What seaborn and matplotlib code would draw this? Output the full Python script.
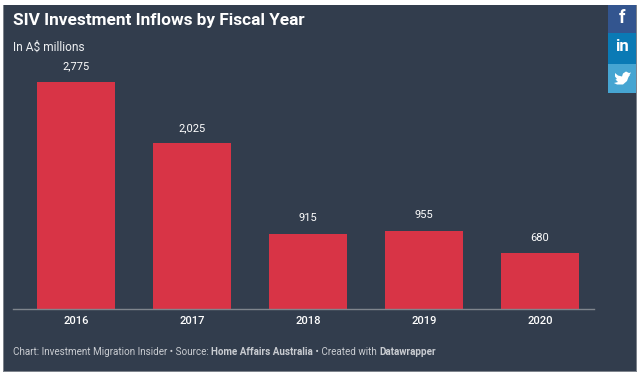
import pandas as pd
import matplotlib
matplotlib.use('Agg')
import matplotlib.pyplot as plt
from matplotlib.patches import Rectangle, Polygon
import seaborn as sns

years = ['2016', '2017', '2018', '2019', '2020']
inflows = [2775, 2025, 915, 955, 680]
value_labels = ['2,775', '2,025', '915', '955', '680']

title = 'SIV Investment Inflows by Fiscal Year'
subtitle = 'In A$ millions'

W, H = 640, 375
BG = '#323d4d'
RED = '#d83446'
TEXT = '#ffffff'

sns.set_theme(style='white')
plt.rcParams['font.family'] = ['Roboto', 'DejaVu Sans']

fig = plt.figure(figsize=(W / 100, H / 100), dpi=100, facecolor='white')


def fx(x):
    return x / W


def fy(y):
    return 1 - y / H


def box(x0, y0, x1, y1, color):
    fig.add_artist(Rectangle((fx(x0), fy(y1)), (x1 - x0) / W, (y1 - y0) / H,
                             transform=fig.transFigure, facecolor=color, edgecolor='none',
                             zorder=-1))


# dark panel with the thin grey edge on the left
box(3, 5, 637, 372, '#7d838c')
box(4, 5, 636, 371, BG)

# the bars
ax = fig.add_axes([fx(13), fy(308.5), 581 / W, 226.5 / H])
ax.patch.set_alpha(0)
df = pd.DataFrame({'year': years, 'inflow': inflows})
sns.barplot(data=df, x='year', y='inflow', color=RED, saturation=1, width=0.672, linewidth=0, ax=ax)
ax.set_xlim(-0.543, 4.466)
ax.set_ylim(0, 2775)
ax.set_xlabel('')
ax.set_ylabel('')
ax.set_yticks([])
for s in ['top', 'left', 'right']:
    ax.spines[s].set_visible(False)
ax.spines['bottom'].set_color('#7f858d')
ax.spines['bottom'].set_linewidth(1)
ax.tick_params(axis='x', length=0, pad=5.5, labelsize=8, labelcolor=TEXT)
for lab in ax.get_xticklabels():
    lab.set_fontweight('medium')

for i, val in enumerate(inflows):
    ax.annotate(value_labels[i], (i, val), xytext=(0, 7.5), textcoords='offset points',
                ha='center', va='bottom', fontsize=8, color=TEXT, annotation_clip=False)

fig.text(fx(13), fy(21), title, fontsize=12.4, fontweight='bold', color=TEXT, va='center')
fig.text(fx(13), fy(47), subtitle, fontsize=8.6, color='#eef0f2', va='center')

# footer, regular and bold pieces laid end to end
footer = [('Chart: Investment Migration Insider • Source: ', 'normal'),
          ('Home Affairs Australia', 'bold'),
          (' • Created with ', 'normal'),
          ('Datawrapper', 'bold')]
fig.canvas.draw()
xpos = 13
for piece, weight in footer:
    t = fig.text(fx(xpos), fy(352), piece.replace(' ', '\u00a0'), fontsize=7.1, fontweight=weight,
                 color='#c9ccd1', va='center')
    xpos += t.get_window_extent(fig.canvas.get_renderer()).width

# share buttons
box(608, 5, 636, 33, '#33558f')
box(608, 33, 636, 64, '#0a7ab5')
box(608, 64, 636, 93, '#46a5d2')
fig.text(fx(622), fy(18), 'f', fontsize=13, fontweight='bold', color='white', ha='center', va='center')
fig.text(fx(622), fy(46.5), 'in', fontsize=12, fontweight='bold', color='white', ha='center', va='center')
bird = [(615, 73), (618, 75.5), (622, 76.5), (623, 73.5), (626, 71.5), (629, 73), (631, 72.5),
        (629.5, 75), (630, 75), (628.5, 77), (627, 81), (623, 84.5), (617, 84.5), (614, 83),
        (618, 82), (615.5, 79.5), (617, 79), (615, 76.5)]
fig.add_artist(Polygon([(fx(x), fy(y)) for x, y in bird], transform=fig.transFigure,
                       facecolor='white', edgecolor='none'))

fig.savefig('out.png', dpi=100, facecolor=fig.get_facecolor())
